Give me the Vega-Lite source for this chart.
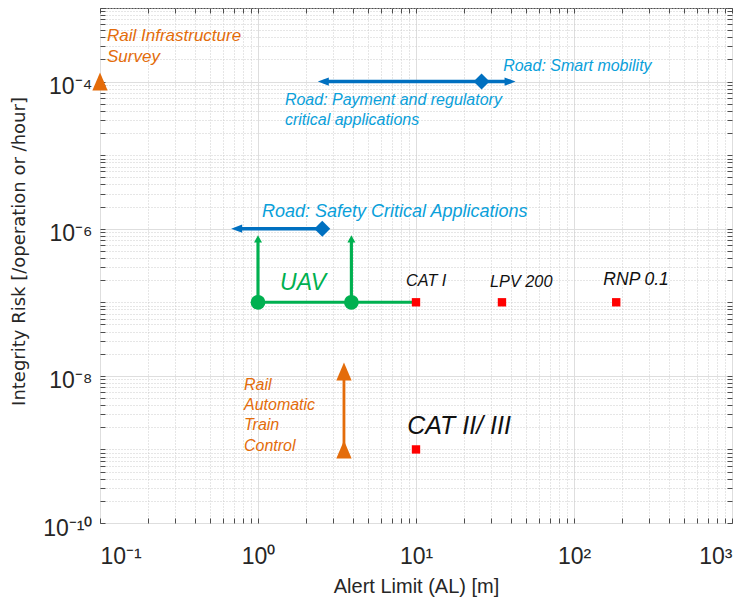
{
  "$schema": "https://vega.github.io/schema/vega-lite/v6.json",
  "width": 632,
  "height": 515,
  "autosize": {"type": "none"},
  "padding": {"left": 100, "top": 8, "right": 19, "bottom": 81},
  "background": "white",
  "config": {
    "view": {"stroke": "#4d4d4d", "strokeWidth": 1},
    "axis": {"domain": false}
  },
  "datasets": {
    "segs": [
      {"g": "road", "x": 2.6, "x2": 40, "y": 1e-4, "y2": 1e-4},
      {"g": "road", "x": 0.74, "x2": 2.55, "y": 1e-6, "y2": 1e-6},
      {"g": "uav", "x": 1, "x2": 10, "y": 1e-7, "y2": 1e-7},
      {"g": "uav", "x": 1, "x2": 1, "y": 1e-7, "y2": 7.3e-7},
      {"g": "uav", "x": 3.9, "x2": 3.9, "y": 1e-7, "y2": 7.3e-7},
      {"g": "rail", "x": 3.5, "x2": 3.5, "y": 1e-9, "y2": 1.15e-8}
    ],
    "pts": [
      {"kind": "diamond", "g": "road", "x": 2.55, "y": 1e-6},
      {"kind": "diamond", "g": "road", "x": 26, "y": 1e-4},
      {"kind": "arrowL", "g": "road", "x": 0.733, "y": 1e-6},
      {"kind": "arrowL", "g": "road", "x": 2.59, "y": 1e-4},
      {"kind": "arrowR", "g": "road", "x": 39.4, "y": 1e-4},
      {"kind": "arrowU", "g": "uav", "x": 1, "y": 7.27e-7},
      {"kind": "arrowU", "g": "uav", "x": 3.9, "y": 7.27e-7},
      {"kind": "circle", "g": "uav", "x": 1, "y": 1e-7},
      {"kind": "circle", "g": "uav", "x": 3.9, "y": 1e-7},
      {"kind": "square", "g": "cat", "x": 10, "y": 1e-7},
      {"kind": "square", "g": "cat", "x": 35, "y": 1e-7},
      {"kind": "square", "g": "cat", "x": 185, "y": 1e-7},
      {"kind": "square", "g": "cat", "x": 10, "y": 1e-9},
      {"kind": "tri", "g": "rail", "x": 0.1, "y": 1e-4},
      {"kind": "tri", "g": "rail", "x": 3.5, "y": 1e-9},
      {"kind": "tri", "g": "rail", "x": 3.5, "y": 1.15e-8}
    ],
    "txt": [
      {"kind": "railsurvey", "x": 0.1107, "y": 4.17e-4, "t": "Rail Infrastructure"},
      {"kind": "railsurvey", "x": 0.1107, "y": 2.16e-4, "t": "Survey"},
      {"kind": "railatc", "x": 0.815, "y": 7.55e-9, "t": "Rail"},
      {"kind": "railatc", "x": 0.815, "y": 4.04e-9, "t": "Automatic"},
      {"kind": "railatc", "x": 0.815, "y": 2.16e-9, "t": "Train"},
      {"kind": "railatc", "x": 0.815, "y": 1.12e-9, "t": "Control"},
      {"kind": "road", "x": 35.6, "y": 1.63e-4, "t": "Road: Smart mobility"},
      {"kind": "road", "x": 1.48, "y": 5.62e-5, "t": "Road: Payment and regulatory"},
      {"kind": "road", "x": 1.48, "y": 3.0e-5, "t": "critical applications"},
      {"kind": "roadsafety", "x": 1.06, "y": 1.69e-6, "t": "Road: Safety Critical Applications"},
      {"kind": "uav", "x": 1.93, "y": 1.84e-7, "t": "UAV"},
      {"kind": "cat", "x": 8.64, "y": 1.95e-7, "t": "CAT I"},
      {"kind": "cat", "x": 29.4, "y": 1.89e-7, "t": "LPV 200"},
      {"kind": "rnp", "x": 153.4, "y": 2.01e-7, "t": "RNP 0.1"},
      {"kind": "catbig", "x": 8.8, "y": 2.1e-9, "t": "CAT II/ III"}
    ]
  },
  "resolve": {"axis": {"x": "independent", "y": "independent"}},
  "layer": [
    {
      "data": {"name": "segs"},
      "mark": {"type": "rule"},
      "encoding": {
        "x": {
          "field": "x", "type": "quantitative",
          "scale": {"type": "log", "domain": [0.1, 1000], "nice": false},
          "axis": {
            "orient": "bottom",
            "values": [0.1,0.2,0.3,0.4,0.5,0.6,0.7,0.8,0.9,1,2,3,4,5,6,7,8,9,10,20,30,40,50,60,70,80,90,100,200,300,400,500,600,700,800,900,1000],
            "labelExpr": "abs(log(datum.value)/LN10 - round(log(datum.value)/LN10)) > 0.01 ? '' : ['10⁻¹','10⁰','10¹','10²','10³'][round(log(datum.value)/LN10)+1]",
            "labelOverlap": false,
            "labelFont": "Liberation Sans", "labelFontSize": 23, "labelColor": "#262626",
            "labelPadding": 27,
            "tickSize": -5, "tickColor": "#4d4d4d",
            "grid": true,
            "gridColor": {"condition": {"test": "abs(log(datum.value)/LN10 - round(log(datum.value)/LN10)) < 0.01", "value": "#dedede"}, "value": "#cccccc"},
            "gridDash": {"condition": {"test": "abs(log(datum.value)/LN10 - round(log(datum.value)/LN10)) < 0.01", "value": []}, "value": [1, 2]},
            "title": "Alert Limit (AL) [m]",
            "titleFont": "Liberation Sans", "titleFontSize": 20, "titleFontWeight": "normal", "titleColor": "#262626",
            "titleBaseline": "middle", "titleY": 63
          }
        },
        "x2": {"field": "x2"},
        "y": {
          "field": "y", "type": "quantitative",
          "scale": {"type": "log", "domain": [1e-10, 1e-3], "nice": false},
          "axis": {
            "orient": "left",
            "values": [1e-10,2e-10,3e-10,4e-10,5e-10,6e-10,7e-10,8e-10,9e-10,1e-9,2e-9,3e-9,4e-9,5e-9,6e-9,7e-9,8e-9,9e-9,1e-8,2e-8,3e-8,4e-8,5e-8,6e-8,7e-8,8e-8,9e-8,1e-7,2e-7,3e-7,4e-7,5e-7,6e-7,7e-7,8e-7,9e-7,1e-6,2e-6,3e-6,4e-6,5e-6,6e-6,7e-6,8e-6,9e-6,1e-5,2e-5,3e-5,4e-5,5e-5,6e-5,7e-5,8e-5,9e-5,1e-4,2e-4,3e-4,4e-4,5e-4,6e-4,7e-4,8e-4,9e-4,1e-3],
            "labelExpr": "(abs(log(datum.value)/LN10 - round(log(datum.value)/LN10)) > 0.01 || round(log(datum.value)/LN10) % 2 != 0) ? '' : ['10⁻¹⁰','10⁻⁸','10⁻⁶','10⁻⁴'][(round(log(datum.value)/LN10)+10)/2]",
            "labelOverlap": false,
            "labelFont": "Liberation Sans", "labelFontSize": 23, "labelColor": "#262626",
            "labelPadding": 13, "labelOffset": 5,
            "tickSize": -5, "tickColor": "#4d4d4d",
            "grid": true,
            "gridColor": {"condition": {"test": "abs(log(datum.value)/LN10 - round(log(datum.value)/LN10)) < 0.01 && round(log(datum.value)/LN10) % 2 == 0", "value": "#dedede"}, "value": "#cccccc"},
            "gridDash": {"condition": {"test": "abs(log(datum.value)/LN10 - round(log(datum.value)/LN10)) < 0.01 && round(log(datum.value)/LN10) % 2 == 0", "value": []}, "value": [1, 2]},
            "title": "Integrity Risk [/operation or /hour]",
            "titleFont": "DejaVu Sans", "titleFontSize": 18, "titleFontWeight": "normal", "titleColor": "#262626",
            "titleAngle": -90, "titleAlign": "center", "titleBaseline": "middle",
            "titleX": -81, "titleY": 243
          }
        },
        "y2": {"field": "y2"},
        "color": {"field": "g", "type": "nominal", "scale": {"domain": ["road", "uav", "rail", "cat"], "range": ["#0070C0", "#00B050", "#E46C0A", "#FF0000"]}, "legend": null},
        "strokeWidth": {"field": "g", "type": "nominal", "scale": {"domain": ["road", "uav", "rail"], "range": [3.5, 2.8, 3.5]}, "legend": null}
      }
    },
    {
      "data": {"name": "pts"},
      "transform": [{"filter": "datum.kind == 'square'"}],
      "mark": {"type": "point", "shape": "square", "filled": true, "opacity": 1, "size": 70},
      "encoding": {
        "x": {"field": "x", "type": "quantitative", "axis": {"orient": "top", "values": [0.1,0.2,0.3,0.4,0.5,0.6,0.7,0.8,0.9,1,2,3,4,5,6,7,8,9,10,20,30,40,50,60,70,80,90,100,200,300,400,500,600,700,800,900,1000], "labels": false, "grid": false, "tickSize": -5, "tickColor": "#4d4d4d", "title": null}},
        "y": {"field": "y", "type": "quantitative", "axis": {"orient": "right", "values": [1e-10,2e-10,3e-10,4e-10,5e-10,6e-10,7e-10,8e-10,9e-10,1e-9,2e-9,3e-9,4e-9,5e-9,6e-9,7e-9,8e-9,9e-9,1e-8,2e-8,3e-8,4e-8,5e-8,6e-8,7e-8,8e-8,9e-8,1e-7,2e-7,3e-7,4e-7,5e-7,6e-7,7e-7,8e-7,9e-7,1e-6,2e-6,3e-6,4e-6,5e-6,6e-6,7e-6,8e-6,9e-6,1e-5,2e-5,3e-5,4e-5,5e-5,6e-5,7e-5,8e-5,9e-5,1e-4,2e-4,3e-4,4e-4,5e-4,6e-4,7e-4,8e-4,9e-4,1e-3], "labels": false, "grid": false, "tickSize": -5, "tickColor": "#4d4d4d", "title": null}},
        "color": {"field": "g", "type": "nominal", "legend": null}
      }
    },
    {
      "data": {"name": "pts"},
      "transform": [{"filter": "datum.kind == 'diamond'"}],
      "mark": {"type": "point", "shape": "diamond", "filled": true, "opacity": 1, "size": 256},
      "encoding": {
        "x": {"field": "x", "type": "quantitative", "axis": null},
        "y": {"field": "y", "type": "quantitative", "axis": null},
        "color": {"field": "g", "type": "nominal", "legend": null}
      }
    },
    {
      "data": {"name": "pts"},
      "transform": [{"filter": "datum.kind == 'arrowL'"}],
      "mark": {"type": "point", "shape": "M-1,0L1,-0.75L1,0.75Z", "filled": true, "opacity": 1, "size": 121},
      "encoding": {
        "x": {"field": "x", "type": "quantitative", "axis": null},
        "y": {"field": "y", "type": "quantitative", "axis": null},
        "color": {"field": "g", "type": "nominal", "legend": null}
      }
    },
    {
      "data": {"name": "pts"},
      "transform": [{"filter": "datum.kind == 'arrowR'"}],
      "mark": {"type": "point", "shape": "M1,0L-1,-0.75L-1,0.75Z", "filled": true, "opacity": 1, "size": 121},
      "encoding": {
        "x": {"field": "x", "type": "quantitative", "axis": null},
        "y": {"field": "y", "type": "quantitative", "axis": null},
        "color": {"field": "g", "type": "nominal", "legend": null}
      }
    },
    {
      "data": {"name": "pts"},
      "transform": [{"filter": "datum.kind == 'arrowU'"}],
      "mark": {"type": "point", "shape": "M0,-0.9L1,0.9L-1,0.9Z", "filled": true, "opacity": 1, "size": 64},
      "encoding": {
        "x": {"field": "x", "type": "quantitative", "axis": null},
        "y": {"field": "y", "type": "quantitative", "axis": null},
        "color": {"field": "g", "type": "nominal", "legend": null}
      }
    },
    {
      "data": {"name": "pts"},
      "transform": [{"filter": "datum.kind == 'circle'"}],
      "mark": {"type": "point", "shape": "circle", "filled": true, "opacity": 1, "size": 219},
      "encoding": {
        "x": {"field": "x", "type": "quantitative", "axis": null},
        "y": {"field": "y", "type": "quantitative", "axis": null},
        "color": {"field": "g", "type": "nominal", "legend": null}
      }
    },
    {
      "data": {"name": "pts"},
      "transform": [{"filter": "datum.kind == 'tri'"}],
      "mark": {"type": "point", "shape": "M0,-1L0.85,1L-0.85,1Z", "filled": true, "opacity": 1, "size": 324, "clip": false},
      "encoding": {
        "x": {"field": "x", "type": "quantitative", "axis": null},
        "y": {"field": "y", "type": "quantitative", "axis": null},
        "color": {"field": "g", "type": "nominal", "legend": null}
      }
    },
    {
      "data": {"name": "txt"},
      "transform": [{"filter": "datum.kind == 'railsurvey'"}],
      "mark": {"type": "text", "align": "left", "baseline": "middle", "font": "Liberation Sans", "fontStyle": "italic", "fontSize": 17, "color": "#E36C0A"},
      "encoding": {
        "x": {"field": "x", "type": "quantitative", "axis": null},
        "y": {"field": "y", "type": "quantitative", "axis": null},
        "text": {"field": "t"}
      }
    },
    {
      "data": {"name": "txt"},
      "transform": [{"filter": "datum.kind == 'railatc'"}],
      "mark": {"type": "text", "align": "left", "baseline": "middle", "font": "Liberation Sans", "fontStyle": "italic", "fontSize": 16, "color": "#E36C0A"},
      "encoding": {
        "x": {"field": "x", "type": "quantitative", "axis": null},
        "y": {"field": "y", "type": "quantitative", "axis": null},
        "text": {"field": "t"}
      }
    },
    {
      "data": {"name": "txt"},
      "transform": [{"filter": "datum.kind == 'road'"}],
      "mark": {"type": "text", "align": "left", "baseline": "middle", "font": "Liberation Sans", "fontStyle": "italic", "fontSize": 16, "color": "#0AA0DA"},
      "encoding": {
        "x": {"field": "x", "type": "quantitative", "axis": null},
        "y": {"field": "y", "type": "quantitative", "axis": null},
        "text": {"field": "t"}
      }
    },
    {
      "data": {"name": "txt"},
      "transform": [{"filter": "datum.kind == 'roadsafety'"}],
      "mark": {"type": "text", "align": "left", "baseline": "middle", "font": "Liberation Sans", "fontStyle": "italic", "fontSize": 18, "color": "#0AA0DA"},
      "encoding": {
        "x": {"field": "x", "type": "quantitative", "axis": null},
        "y": {"field": "y", "type": "quantitative", "axis": null},
        "text": {"field": "t"}
      }
    },
    {
      "data": {"name": "txt"},
      "transform": [{"filter": "datum.kind == 'uav'"}],
      "mark": {"type": "text", "align": "center", "baseline": "middle", "font": "Liberation Sans", "fontStyle": "italic", "fontSize": 23, "color": "#00B050"},
      "encoding": {
        "x": {"field": "x", "type": "quantitative", "axis": null},
        "y": {"field": "y", "type": "quantitative", "axis": null},
        "text": {"field": "t"}
      }
    },
    {
      "data": {"name": "txt"},
      "transform": [{"filter": "datum.kind == 'cat'"}],
      "mark": {"type": "text", "align": "left", "baseline": "middle", "font": "Liberation Sans", "fontStyle": "italic", "fontSize": 16.3, "color": "#111111"},
      "encoding": {
        "x": {"field": "x", "type": "quantitative", "axis": null},
        "y": {"field": "y", "type": "quantitative", "axis": null},
        "text": {"field": "t"}
      }
    },
    {
      "data": {"name": "txt"},
      "transform": [{"filter": "datum.kind == 'rnp'"}],
      "mark": {"type": "text", "align": "left", "baseline": "middle", "font": "Liberation Sans", "fontStyle": "italic", "fontSize": 17.5, "color": "#111111"},
      "encoding": {
        "x": {"field": "x", "type": "quantitative", "axis": null},
        "y": {"field": "y", "type": "quantitative", "axis": null},
        "text": {"field": "t"}
      }
    },
    {
      "data": {"name": "txt"},
      "transform": [{"filter": "datum.kind == 'catbig'"}],
      "mark": {"type": "text", "align": "left", "baseline": "middle", "font": "Liberation Sans", "fontStyle": "italic", "fontSize": 25, "color": "#111111"},
      "encoding": {
        "x": {"field": "x", "type": "quantitative", "axis": null},
        "y": {"field": "y", "type": "quantitative", "axis": null},
        "text": {"field": "t"}
      }
    }
  ]
}
